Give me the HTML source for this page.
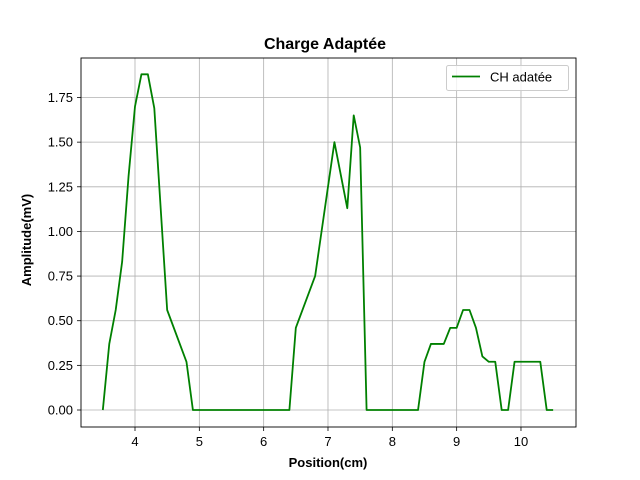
<!DOCTYPE html>
<html><head><meta charset="utf-8"><style>
body{margin:0;background:#fff}
svg{display:block;font-family:"Liberation Sans","DejaVu Sans",sans-serif}
</style></head><body>
<svg id="chart" width="640" height="480">
<rect width="640" height="480" fill="#fff"/>
<g id="grid"></g>
<polyline id="line" fill="none" stroke="#008000" stroke-width="1.8" stroke-linejoin="round"/>
<rect x="81" y="58" width="495" height="369" fill="none" stroke="#000" stroke-width="0.9"/>
<g id="ticks"></g>
<text x="325" y="49" text-anchor="middle" font-size="16" font-weight="bold">Charge Adaptée</text>
<text x="328" y="467" text-anchor="middle" font-size="13" font-weight="bold">Position(cm)</text>
<text transform="translate(31,240) rotate(-90)" text-anchor="middle" font-size="13" font-weight="bold">Amplitude(mV)</text>
<g>
<rect x="446.5" y="65.5" width="122" height="25" rx="2" fill="#fff" fill-opacity="0.8" stroke="#ccc"/>
<line x1="452" y1="76.5" x2="480" y2="76.5" stroke="#008000" stroke-width="1.8"/>
<text x="490" y="81.5" font-size="13">CH adatée</text>
</g>
</svg>
<script>
const xs=[3.5,3.6,3.7,3.8,3.9,4.0,4.1,4.2,4.3,4.5,4.8,4.9,6.4,6.5,6.8,7.1,7.3,7.4,7.5,7.6,8.4,8.5,8.6,8.8,8.9,9.0,9.1,9.2,9.3,9.4,9.5,9.6,9.7,9.8,9.9,10.3,10.4,10.5];
const ys=[0,0.37,0.56,0.83,1.31,1.70,1.88,1.88,1.69,0.56,0.27,0,0,0.46,0.75,1.50,1.13,1.65,1.47,0,0,0.27,0.37,0.37,0.46,0.46,0.56,0.56,0.46,0.30,0.27,0.27,0,0,0.27,0.27,0,0];
const xTicks=[4,5,6,7,8,9,10];
const yTicks=[0,0.25,0.5,0.75,1.0,1.25,1.5,1.75];
const yLabels=["0.00","0.25","0.50","0.75","1.00","1.25","1.50","1.75"];
const X=v=>135+(v-4)*64.33;
const Y=v=>410-v*178.57;
const NS="http://www.w3.org/2000/svg";
const grid=document.getElementById('grid'),ticks=document.getElementById('ticks');
function mk(tag,attrs,parent){const e=document.createElementNS(NS,tag);for(const k in attrs)e.setAttribute(k,attrs[k]);parent.appendChild(e);return e;}
xTicks.forEach(t=>{
 const g=mk('line',{x1:X(t),x2:X(t),y1:58,y2:427,stroke:'#b0b0b0','stroke-width':0.8},grid);
 
 
 mk('line',{x1:X(t),x2:X(t),y1:427,y2:431,stroke:'#000','stroke-width':0.8},ticks);
 const l=mk('text',{x:X(t),y:446,'text-anchor':'middle','font-size':13},ticks);
 l.textContent=t;
 
 
});
yTicks.forEach((t,i)=>{
 const g=mk('line',{x1:81,x2:576,y1:Y(t),y2:Y(t),stroke:'#b0b0b0','stroke-width':0.8},grid);
 
 
 mk('line',{x1:77,x2:81,y1:Y(t),y2:Y(t),stroke:'#000','stroke-width':0.8},ticks);
 const l=mk('text',{x:73,y:Y(t)+4.5,'text-anchor':'end','font-size':13},ticks);
 l.textContent=yLabels[i];
 
 
});
document.getElementById('line').setAttribute('points',xs.map((x,i)=>X(x)+','+Y(ys[i])).join(' '));
</script>
</body></html>
